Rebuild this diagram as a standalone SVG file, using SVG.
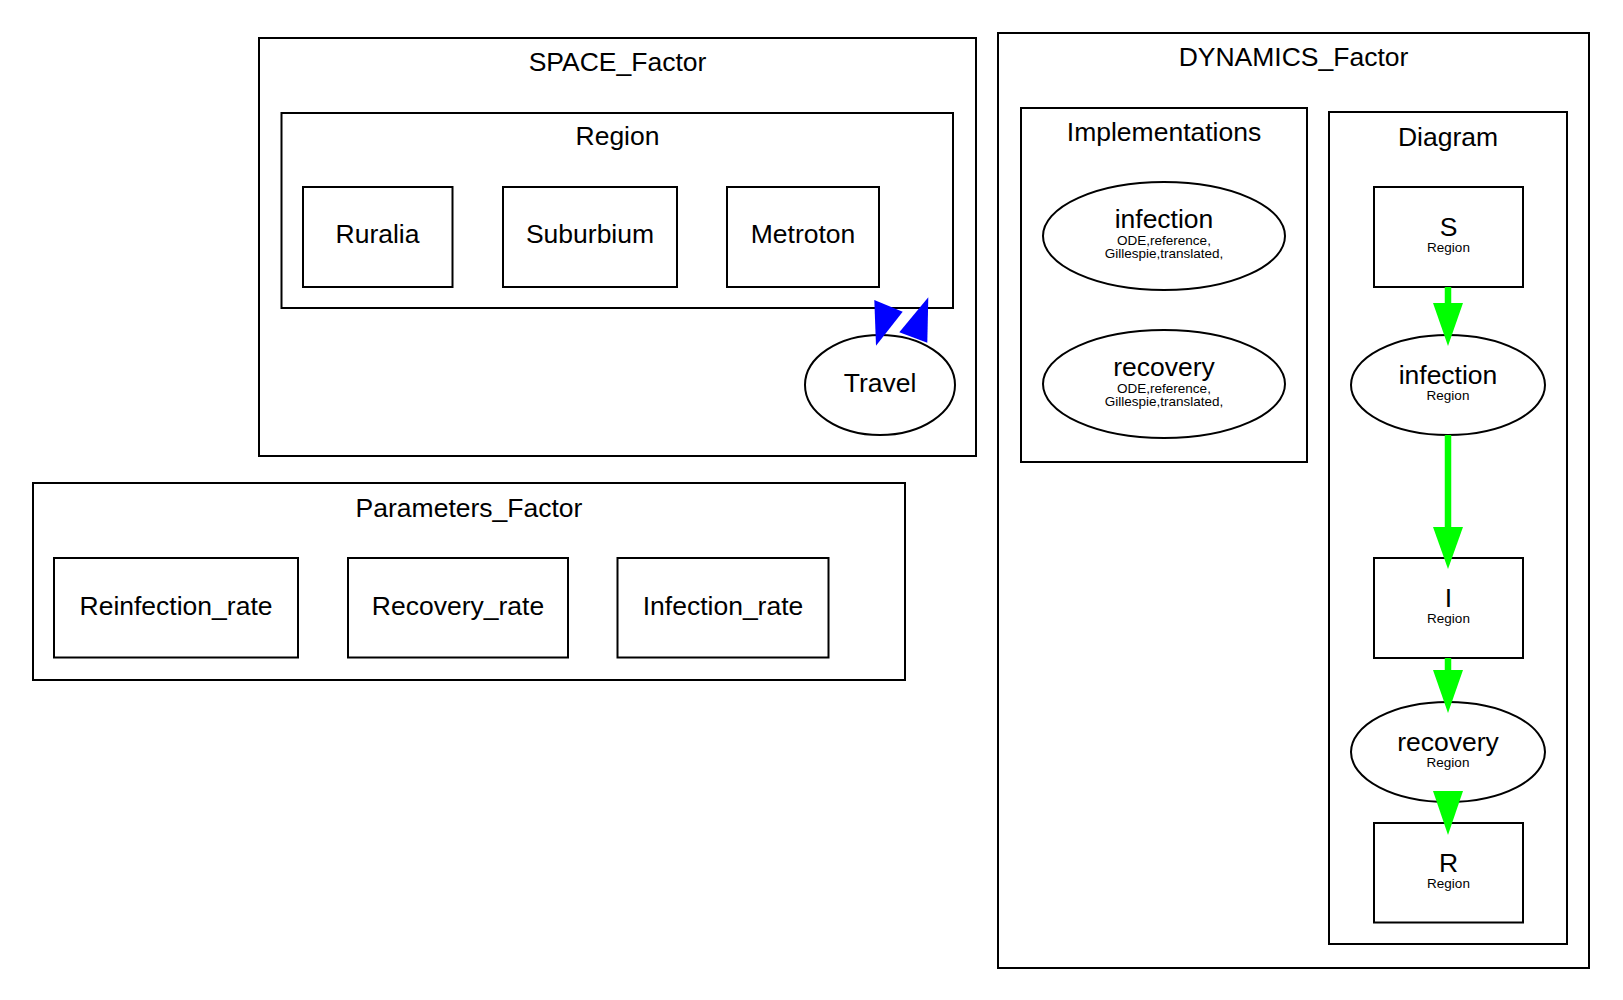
<svg xmlns="http://www.w3.org/2000/svg" width="1623" height="1000" viewBox="0 0 1623 1000">
<style>
  .cl { fill: none; stroke: #000; stroke-width: 2; }
  .nd { fill: #fff; stroke: #000; stroke-width: 2; }
  text { font-family: "Liberation Sans", Arial, Helvetica, sans-serif; fill: #000; text-anchor: middle; }
  .t { font-size: 26.5px; }
  .s { font-size: 13.5px; }
  .g { stroke: #00ff00; stroke-width: 6.5; fill: none; }
  .gh { fill: #00ff00; stroke: none; }
  .bh { fill: #0000ff; stroke: none; }
</style>
<rect width="1623" height="1000" fill="#fff"/>

<g id="cluster_SPACE_Factor">
  <rect class="cl" x="259" y="38" width="717" height="418"/>
  <text class="t" x="617.5" y="71">SPACE_Factor</text>
</g>
<g id="cluster_Region">
  <rect class="cl" x="281.5" y="113" width="671.5" height="195"/>
  <text class="t" x="617.5" y="145">Region</text>
</g>
<g id="cluster_Parameters_Factor">
  <rect class="cl" x="33" y="483" width="872" height="197"/>
  <text class="t" x="469" y="517">Parameters_Factor</text>
</g>
<g id="cluster_DYNAMICS_Factor">
  <rect class="cl" x="998" y="33" width="591" height="935"/>
  <text class="t" x="1293.5" y="66">DYNAMICS_Factor</text>
</g>
<g id="cluster_Implementations">
  <rect class="cl" x="1021" y="108" width="286" height="354"/>
  <text class="t" x="1164" y="141">Implementations</text>
</g>
<g id="cluster_Diagram">
  <rect class="cl" x="1329" y="112" width="238" height="832"/>
  <text class="t" x="1448" y="146">Diagram</text>
</g>

<g id="Ruralia">
  <rect class="nd" x="303" y="187" width="149.5" height="100"/>
  <text class="t" x="377.5" y="243">Ruralia</text>
</g>
<g id="Suburbium">
  <rect class="nd" x="503" y="187" width="174" height="100"/>
  <text class="t" x="590" y="243">Suburbium</text>
</g>
<g id="Metroton">
  <rect class="nd" x="727" y="187" width="152" height="100"/>
  <text class="t" x="803" y="243">Metroton</text>
</g>
<g id="Travel">
  <ellipse class="nd" cx="880" cy="385" rx="75" ry="50"/>
  <text class="t" x="880" y="391.5">Travel</text>
</g>

<g id="Reinfection_rate">
  <rect class="nd" x="54" y="558" width="244" height="99.5"/>
  <text class="t" x="176" y="615">Reinfection_rate</text>
</g>
<g id="Recovery_rate">
  <rect class="nd" x="348" y="558" width="220" height="99.5"/>
  <text class="t" x="458" y="615">Recovery_rate</text>
</g>
<g id="Infection_rate">
  <rect class="nd" x="617.5" y="558" width="211" height="99.5"/>
  <text class="t" x="723" y="615">Infection_rate</text>
</g>

<g id="impl_infection">
  <ellipse class="nd" cx="1164" cy="236" rx="121" ry="54"/>
  <text class="t" x="1164" y="228">infection</text>
  <text class="s" x="1164" y="245">ODE,reference,</text>
  <text class="s" x="1164" y="258">Gillespie,translated,</text>
</g>
<g id="impl_recovery">
  <ellipse class="nd" cx="1164" cy="384" rx="121" ry="54"/>
  <text class="t" x="1164" y="376">recovery</text>
  <text class="s" x="1164" y="393">ODE,reference,</text>
  <text class="s" x="1164" y="406">Gillespie,translated,</text>
</g>

<g id="S">
  <rect class="nd" x="1374" y="187" width="149" height="100"/>
  <text class="t" x="1448.5" y="235.5">S</text>
  <text class="s" x="1448.5" y="252">Region</text>
</g>
<g id="infection">
  <ellipse class="nd" cx="1448" cy="385" rx="97" ry="50"/>
  <text class="t" x="1448" y="383.5">infection</text>
  <text class="s" x="1448" y="400">Region</text>
</g>
<g id="I">
  <rect class="nd" x="1374" y="558" width="149" height="100"/>
  <text class="t" x="1448.5" y="606.5">I</text>
  <text class="s" x="1448.5" y="623">Region</text>
</g>
<g id="recovery">
  <ellipse class="nd" cx="1448" cy="752" rx="97" ry="50"/>
  <text class="t" x="1448" y="750.5">recovery</text>
  <text class="s" x="1448" y="767">Region</text>
</g>
<g id="R">
  <rect class="nd" x="1374" y="823" width="149" height="99.5"/>
  <text class="t" x="1448.5" y="871.5">R</text>
  <text class="s" x="1448.5" y="888">Region</text>
</g>

<g id="connectors">
  <g id="edge_Region_Travel">
    <polygon class="bh" points="874.3,300 902.7,311.7 876,345.7"/>
  </g>
  <g id="edge_Travel_Region">
    <polygon class="bh" points="928.3,297.3 927.3,342.7 899.3,332.3"/>
  </g>
  <g id="edge_S_infection">
    <line class="g" x1="1448" y1="287" x2="1448" y2="304"/>
    <polygon class="gh" points="1433,303 1463,303 1448,346"/>
  </g>
  <g id="edge_infection_I">
    <line class="g" x1="1448" y1="435" x2="1448" y2="528"/>
    <polygon class="gh" points="1433,527 1463,527 1448,569"/>
  </g>
  <g id="edge_I_recovery">
    <line class="g" x1="1448" y1="658" x2="1448" y2="671"/>
    <polygon class="gh" points="1433,670 1463,670 1448,713"/>
  </g>
  <g id="edge_recovery_R">
    <polygon class="gh" points="1433,791 1463,791 1448,835"/>
  </g>
</g>
</svg>
